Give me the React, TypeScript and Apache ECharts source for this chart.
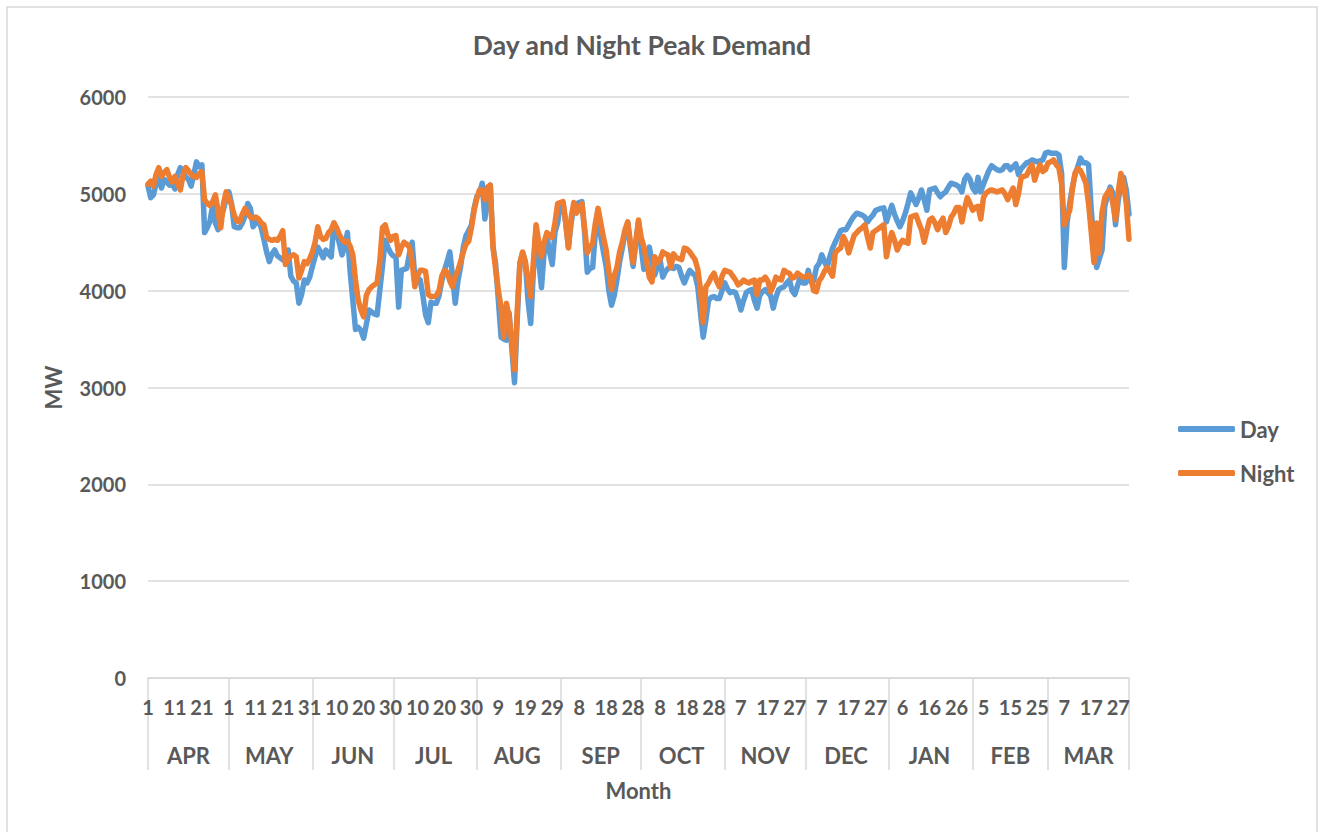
import React, { useEffect, useRef } from "react";
import * as echarts from "echarts";

const monthNames = ["APR", "MAY", "JUN", "JUL", "AUG", "SEP", "OCT", "NOV", "DEC", "JAN", "FEB", "MAR"];
const monthLengths = [30, 31, 30, 31, 31, 30, 31, 30, 31, 31, 28, 31];
const yTicks = [0, 1000, 2000, 3000, 4000, 5000, 6000];

const dayDemand = [
  5080, 4960, 4990, 5100, 5170, 5060, 5150, 5120, 5090, 5100,
  5050, 5200, 5270, 5240, 5170, 5150, 5080, 5200, 5330, 5280,
  5300, 4600, 4650, 4720, 4880, 4700, 4630, 4750, 4840, 4950,
  5020, 4900, 4660, 4650, 4650, 4700, 4770, 4900, 4850, 4660,
  4700, 4730, 4650, 4530, 4400, 4300, 4380, 4420, 4360, 4340,
  4320, 4300, 4420, 4150, 4100, 4080, 3870, 3960, 4110, 4080,
  4140, 4250, 4350, 4450, 4400, 4340, 4420, 4380, 4350, 4700,
  4600, 4490, 4370, 4450, 4600, 4200, 3900, 3600, 3620, 3590,
  3510, 3650, 3800, 3780, 3760, 3750, 4000, 4250, 4520, 4450,
  4390, 4360, 4350, 3830, 4210, 4220, 4230, 4380, 4500, 4140,
  4130, 4110, 3950, 3750, 3670, 3880, 3870, 3870, 3950, 4100,
  4210, 4300, 4400, 4150, 3870, 4100, 4250, 4450, 4570, 4620,
  4680, 4850, 4970, 5000, 5110, 4740, 4960, 5090, 4460, 4270,
  3900, 3520, 3500, 3490, 3770, 3400, 3050, 3700, 4280, 4390,
  4300, 3900, 3660, 4200, 4650, 4300, 4030, 4400, 4570, 4400,
  4270, 4600, 4700, 4900, 4910, 4700, 4450, 4700, 4860, 4900,
  4910, 4920, 4600, 4190, 4230, 4240, 4600, 4830, 4560, 4400,
  4250, 4000, 3850, 3950, 4110, 4300, 4440, 4600, 4700, 4450,
  4250, 4500, 4710, 4450, 4220, 4350, 4450, 4300, 4160, 4250,
  4320, 4140, 4200, 4230, 4240, 4230, 4250, 4240, 4150, 4080,
  4150, 4210, 4180, 4160, 4040, 3770, 3520, 3700, 3900, 3930,
  3940, 3920, 3920, 4000, 4080, 4020, 3980, 3990, 3980, 3900,
  3800, 3900, 3980, 4000, 4010, 3900, 3820, 3950, 3990, 4010,
  3980, 3950, 3820, 3930, 4010, 4030, 4040, 4080, 4110, 4000,
  3960, 4050, 4140, 4080, 4080, 4210, 4090, 4100, 4240, 4280,
  4370, 4300, 4240, 4350, 4440, 4500, 4560, 4620, 4630, 4630,
  4680, 4730, 4770, 4800, 4790, 4780, 4760, 4710, 4750, 4780,
  4830, 4840, 4850, 4855, 4710, 4800, 4880, 4790, 4720, 4660,
  4720, 4800, 4900, 5010, 4950, 4890, 4960, 5040, 4940, 4830,
  5040, 5050, 5060, 5010, 4970, 5000, 5020, 5070, 5110, 5100,
  5090, 5070, 5020, 5150, 5190, 5150, 5060, 5020, 5170, 5020,
  5100, 5170, 5240, 5290, 5270, 5250, 5240, 5250, 5290, 5290,
  5250, 5280, 5310, 5200, 5260, 5290, 5320, 5330, 5350, 5340,
  5330, 5340, 5350, 5420, 5430, 5420, 5420, 5420, 5400, 5210,
  4240, 4700, 4900, 5070, 5200, 5280, 5370, 5320, 5320, 5300,
  4830, 4500, 4240, 4330, 4420, 4870, 4980, 5070, 5010, 4680,
  4930, 5100, 5170, 5040, 4790,
];

const nightDemand = [
  5100, 5130, 5080, 5200, 5270, 5180, 5220, 5250, 5170, 5120,
  5180, 5100, 5040, 5190, 5270, 5240, 5200, 5180, 5170, 5210,
  5230, 4940, 4900, 4880, 4920, 4990, 4820, 4650, 4900, 5020,
  4960, 4880, 4780, 4720, 4710, 4790, 4850, 4800, 4760, 4750,
  4760, 4740, 4700, 4680, 4550, 4530, 4520, 4530, 4520, 4560,
  4620, 4270, 4320, 4360, 4370, 4350, 4130, 4210, 4300, 4280,
  4330, 4400, 4500, 4660, 4560, 4530, 4540, 4600, 4630, 4700,
  4650, 4580, 4530, 4500, 4510, 4460, 4370, 4110, 3900, 3800,
  3730, 3950, 4010, 4040, 4060, 4080, 4300, 4650, 4680, 4580,
  4520, 4560, 4570, 4370, 4450, 4500, 4480, 4450, 4300, 4040,
  4150, 4210, 4210, 4200, 3960, 3940, 3940, 3950, 4000, 4150,
  4210, 4190, 4100, 4040, 4150, 4210, 4300, 4400, 4480, 4510,
  4650, 4830, 4950, 5040, 5040, 4940, 5070, 5090, 4450, 4220,
  4000, 3830, 3520, 3870, 3730, 3450, 3180, 3800, 4290, 4400,
  4300, 4100, 3940, 4300, 4680, 4500, 4350, 4500, 4600, 4570,
  4550, 4700, 4900, 4910, 4920, 4700, 4440, 4750, 4910, 4800,
  4850, 4900, 4650, 4390, 4450, 4490, 4700, 4850, 4700, 4550,
  4420, 4200, 4010, 4150, 4240, 4400, 4500, 4630, 4710, 4500,
  4290, 4500, 4730, 4550, 4450, 4300, 4140, 4090, 4350, 4290,
  4320, 4400, 4380, 4370, 4240, 4380, 4340, 4330, 4320, 4440,
  4430, 4400, 4360, 4320, 4220, 4010, 3670, 4040, 4080, 4140,
  4180, 4100, 4040, 4150, 4210, 4200, 4190, 4150, 4110, 4060,
  4080, 4110, 4090, 4080, 4100, 4110, 3960, 4110, 4110, 4140,
  4100, 3990, 4050, 4140, 4120, 4110, 4210, 4190, 4180, 4130,
  4140, 4180, 4160, 4140, 4140, 4160, 4140, 4000, 3990, 4100,
  4140, 4200, 4240, 4200, 4150, 4390, 4420, 4440, 4560, 4500,
  4390, 4480, 4570, 4600, 4630, 4650, 4680, 4550, 4440, 4600,
  4620, 4640, 4660, 4680, 4350, 4500, 4600, 4520, 4420, 4480,
  4520, 4500, 4490, 4760, 4770, 4780, 4700, 4630, 4500, 4620,
  4730, 4750, 4700, 4630, 4700, 4750, 4600, 4660, 4760, 4800,
  4860, 4860, 4710, 4850, 4960, 4900, 4830, 4860, 4870, 4740,
  4960, 5010, 5030, 5040, 5030, 5020, 5030, 5040, 5000, 4940,
  5000, 5060, 4890, 5000, 5170, 5180, 5190, 5250, 5300, 5140,
  5230, 5300, 5230, 5250, 5320, 5330, 5350, 5300, 5270, 5100,
  4680, 4760, 4830, 5050, 5215, 5260, 5240, 5180, 5110, 4900,
  4600, 4290, 4700, 4390, 4810, 4960, 5010, 5040, 4900, 4730,
  5020, 5210, 5100, 4900, 4530,
];

// Category labels built from months and their lengths
const dayLabels: string[] = [];
const monthOfDay: string[] = [];
const monthStarts: number[] = [];
const monthMids: number[] = [];
monthNames.forEach((m, mi) => {
  const start = dayLabels.length;
  monthStarts.push(start);
  monthMids.push(Math.floor(start + monthLengths[mi] / 2));
  for (let d = 1; d <= monthLengths[mi]; d++) {
    dayLabels.push(String(d));
    monthOfDay.push(m);
  }
});
const lastIndex = dayLabels.length - 1;

const TEXT = "#595959";
const FONT = "Lato, 'Open Sans', sans-serif";
const GRID = "#D9D9D9";
const FS = 22;
const FS_SMALL = 20;

export default function App() {
  const ref = useRef<HTMLDivElement>(null);
  useEffect(() => {
    document.body.style.margin = "0";
    if (!ref.current) return;
    const chart = echarts.init(ref.current, null, { renderer: "svg" });
    const labelStyle = { color: TEXT, fontSize: FS, fontWeight: "bold", fontFamily: FONT };
    const smallStyle = { color: TEXT, fontSize: FS_SMALL, fontWeight: "bold", fontFamily: FONT };
    chart.setOption({
      animation: false,
      backgroundColor: "#ffffff",
      textStyle: { fontFamily: FONT },
      grid: { left: 148, right: 192, top: 97, bottom: 154, containLabel: false },
      graphic: [
        {
          type: "rect",
          shape: { x: 7, y: 7, width: 1310, height: 840 },
          style: { fill: "none", stroke: GRID, lineWidth: 1.5 },
          silent: true,
        },
        {
          type: "text",
          x: 642,
          y: 45,
          style: {
            text: "Day and Night Peak Demand",
            fill: TEXT,
            font: `bold 26.5px ${FONT}`,
            textAlign: "center",
            textVerticalAlign: "middle",
          },
        },
      ],
      legend: {
        orient: "vertical",
        left: 1173,
        top: 411,
        itemWidth: 57,
        itemHeight: 6,
        itemGap: 18,
        icon: "roundRect",
        textStyle: { ...labelStyle, lineHeight: 26 },
        data: ["Day", "Night"],
      },
      xAxis: [
        {
          type: "category",
          data: dayLabels,
          boundaryGap: false,
          position: "bottom",
          axisLine: { show: true, lineStyle: { color: GRID, width: 1.5 } },
          axisTick: {
            show: true,
            length: 92,
            interval: (idx: number) => monthStarts.includes(idx) || idx === lastIndex,
            lineStyle: { color: GRID, width: 1.5 },
          },
          axisLabel: {
            interval: (idx: number) => idx % 10 === 0,
            margin: 19,
            ...smallStyle,
          },
          splitLine: { show: false },
          name: "Month",
          nameLocation: "middle",
          nameGap: 101,
          nameTextStyle: labelStyle,
        },
        {
          type: "category",
          data: monthOfDay,
          boundaryGap: false,
          position: "bottom",
          axisLine: { show: false },
          axisTick: { show: false },
          axisLabel: {
            interval: (idx: number) => monthMids.includes(idx),
            margin: 66,
            ...labelStyle,
          },
          splitLine: { show: false },
        },
      ],
      yAxis: {
        type: "value",
        min: yTicks[0],
        max: yTicks[yTicks.length - 1],
        interval: 1000,
        axisLine: { show: false },
        axisTick: { show: false },
        axisLabel: { margin: 22, ...smallStyle, formatter: (v: number) => String(v) },
        splitLine: { lineStyle: { color: GRID, width: 1.5 } },
        name: "MW",
        nameLocation: "middle",
        nameGap: 84,
        nameTextStyle: labelStyle,
      },
      series: [
        {
          name: "Day",
          type: "line",
          xAxisIndex: 0,
          data: dayDemand,
          showSymbol: false,
          symbol: "none",
          lineStyle: { color: "#5B9BD5", width: 5.5, cap: "round", join: "round" },
          itemStyle: { color: "#5B9BD5" },
        },
        {
          name: "Night",
          type: "line",
          xAxisIndex: 0,
          data: nightDemand,
          showSymbol: false,
          symbol: "none",
          lineStyle: { color: "#ED7D31", width: 5.5, cap: "round", join: "round" },
          itemStyle: { color: "#ED7D31" },
        },
      ],
    });
    return () => chart.dispose();
  }, []);
  return <div ref={ref} style={{ width: 1321, height: 832 }} />;
}
